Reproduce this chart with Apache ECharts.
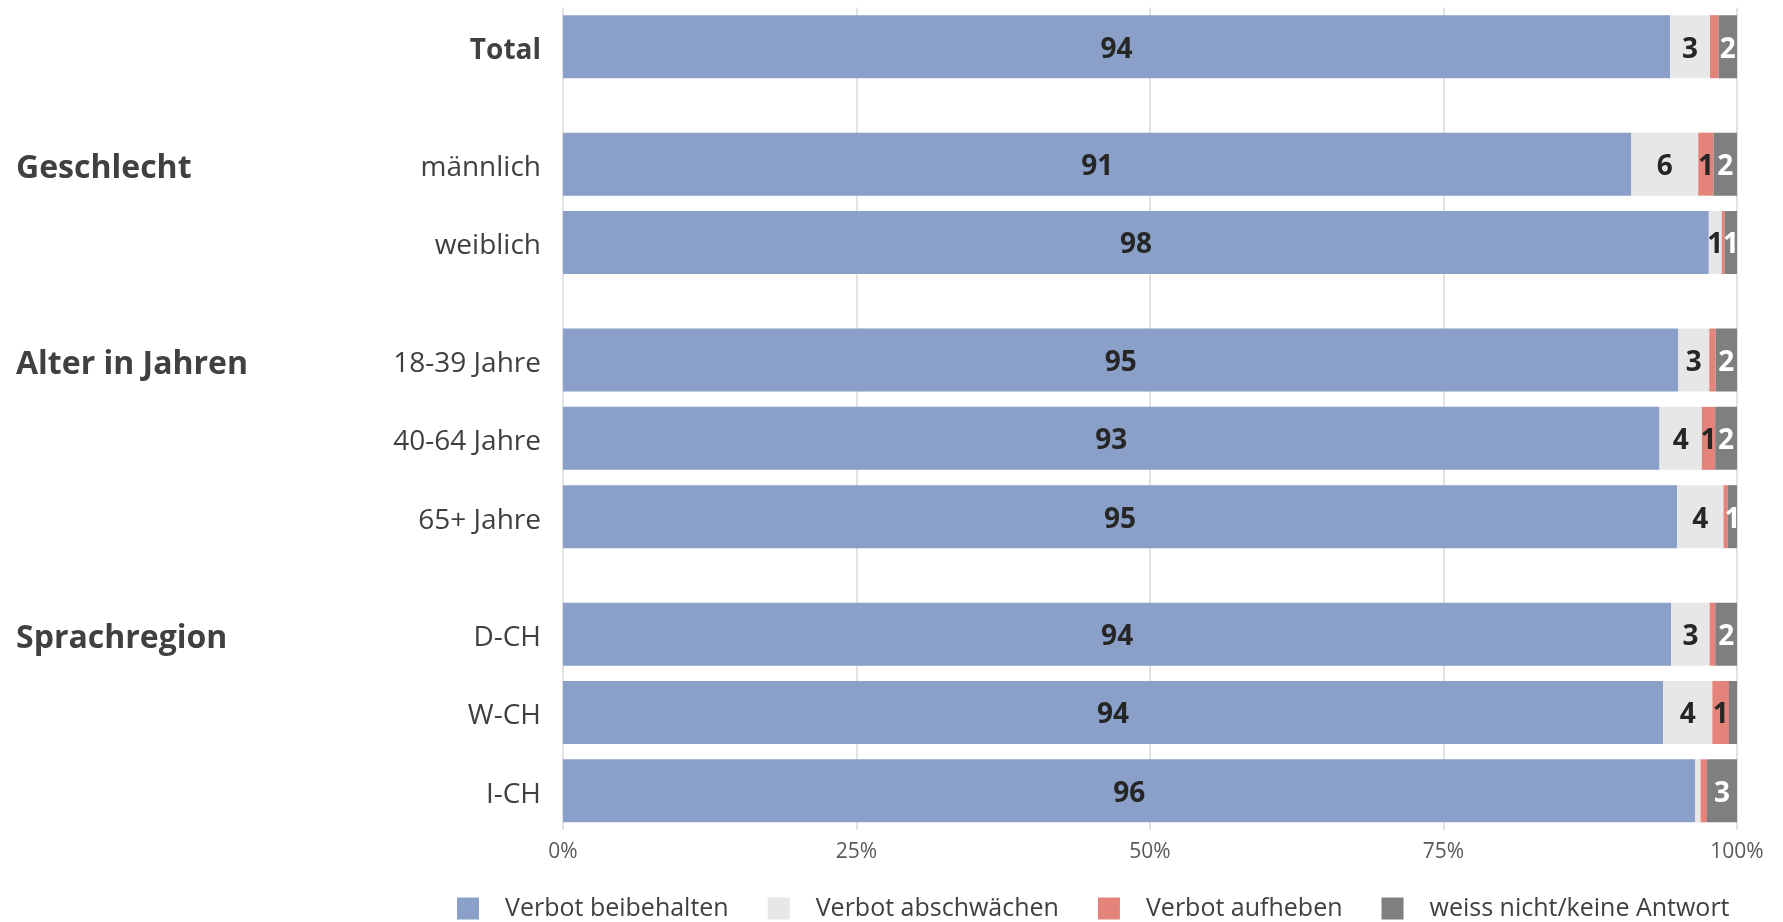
<!DOCTYPE html>
<html>
<head>
<meta charset="utf-8">
<script src="https://cdn.jsdelivr.net/npm/echarts@6/dist/echarts.min.js"></script>
<style>
html,body{margin:0;padding:0;background:#fff;}
#chart{width:1783px;height:922px;}
</style>
</head>
<body>
<div id="chart"></div>
<script>
// ---- data ----
const groupNames = ['', 'Geschlecht', 'Alter in Jahren', 'Sprachregion'];
const groupRows = [
  ['Total'],
  ['männlich', 'weiblich'],
  ['18-39 Jahre', '40-64 Jahre', '65+ Jahre'],
  ['D-CH', 'W-CH', 'I-CH']
];
const seriesNames = ['Verbot beibehalten', 'Verbot abschwächen', 'Verbot aufheben', 'weiss nicht/keine Antwort'];
const beibehalten  = [94.3, 91.0, 97.6, 95.0, 93.4, 94.9, 94.4, 93.7, 96.45];
const abschwaechen = [3.4, 5.7, 1.1, 2.64, 3.6, 3.95, 3.27, 4.2, 0.45];
const aufheben     = [0.72, 1.3, 0.26, 0.54, 1.14, 0.37, 0.48, 1.42, 0.54];
const weissNicht   = [1.58, 2.0, 1.04, 1.82, 1.86, 0.78, 1.85, 0.68, 2.56];
const xTicks = [0, 25, 50, 75, 100];

// ---- rows on a half-row scale (groups separated by an extra half row) ----
const rowSlot = [], rowLabel = [], rowBold = [];
const groupLabelBySlot = {};
let pos = 1;
groupRows.forEach((rows, gi) => {
  if (gi > 0) pos += 1;
  rows.forEach((r, ri) => {
    rowSlot.push(pos);
    rowLabel.push(r);
    rowBold.push(groupNames[gi] === '');
    if (ri === 0 && groupNames[gi]) groupLabelBySlot[pos] = groupNames[gi];
    pos += 2;
  });
});
const nSlots = pos;
const slotCats = [];
for (let i = 0; i < nSlots; i++) slotCats.push(String(i));
const catLabel = {};
rowSlot.forEach((s, i) => { catLabel[s] = rowBold[i] ? '{b|' + rowLabel[i] + '}' : '{n|' + rowLabel[i] + '}'; });

function toSlots(arr) {
  const out = new Array(nSlots).fill(null);
  rowSlot.forEach((s, i) => { out[s] = arr[i]; });
  return out;
}

const colors = ['#8aa0c8', '#e7e7e7', '#e4837a', '#7f7f7f'];
const labelColors = ['#262626', '#262626', '#262626', '#ffffff'];
const values = [beibehalten, abschwaechen, aufheben, weissNicht];
const FONT = 'Open Sans';

const chart = echarts.init(document.getElementById('chart'));
chart.setOption({
  animation: false,
  backgroundColor: '#ffffff',
  grid: { left: 563, right: 46, top: 7.5, bottom: 92 },
  legend: {
    left: 452, top: 891, width: 1320,
    icon: 'rect', itemWidth: 22, itemHeight: 22, itemGap: 39,
    data: seriesNames,
    textStyle: { fontFamily: FONT, fontSize: 25, color: '#404040', padding: [0, 0, 0, 21] }
  },
  xAxis: {
    type: 'value', min: xTicks[0], max: xTicks[xTicks.length - 1], interval: 25,
    axisLine: { show: false }, axisTick: { show: false },
    splitLine: { show: true, lineStyle: { color: '#d9d9d9', width: 1.5 } },
    axisLabel: { formatter: '{value}%', fontFamily: FONT, fontSize: 21, color: '#595959', margin: 12 }
  },
  yAxis: [
    {
      type: 'category', inverse: true, boundaryGap: false, data: slotCats,
      axisLine: { show: false }, axisTick: { show: false }, splitLine: { show: false },
      axisLabel: {
        interval: 0, margin: 22, fontFamily: FONT, fontSize: 28, color: '#404040',
        formatter: v => catLabel[+v] || '',
        rich: {
          b: { fontFamily: FONT, fontSize: 28, fontWeight: 'bold', color: '#404040', padding: [8, 0, 0, 0] },
          n: { fontFamily: FONT, fontSize: 28, color: '#404040', padding: [8, 0, 0, 0] }
        }
      }
    },
    {
      type: 'category', inverse: true, boundaryGap: false, data: slotCats, position: 'left',
      axisLine: { show: false }, axisTick: { show: false }, splitLine: { show: false },
      axisLabel: {
        interval: 0, margin: 547, align: 'left', fontFamily: FONT, fontSize: 32,
        fontWeight: 'bold', color: '#404040',
        formatter: v => groupLabelBySlot[+v] ? '{g|' + groupLabelBySlot[+v] + '}' : '',
        rich: { g: { fontFamily: FONT, fontSize: 32, fontWeight: 'bold', color: '#404040', padding: [9, 0, 0, 0] } }
      }
    }
  ],
  series: seriesNames.map((name, i) => ({
    name, type: 'bar', stack: 'all', yAxisIndex: 0, barWidth: 63,
    itemStyle: { color: colors[i] },
    data: toSlots(values[i]),
    label: {
      show: true, position: 'inside', fontFamily: FONT, fontSize: 28, fontWeight: 'bold',
      color: labelColors[i], offset: [0, 3],
      formatter: p => (p.value != null && p.value >= 0.75) ? String(Math.round(p.value)) : ''
    }
  }))
});
</script>
</body>
</html>
